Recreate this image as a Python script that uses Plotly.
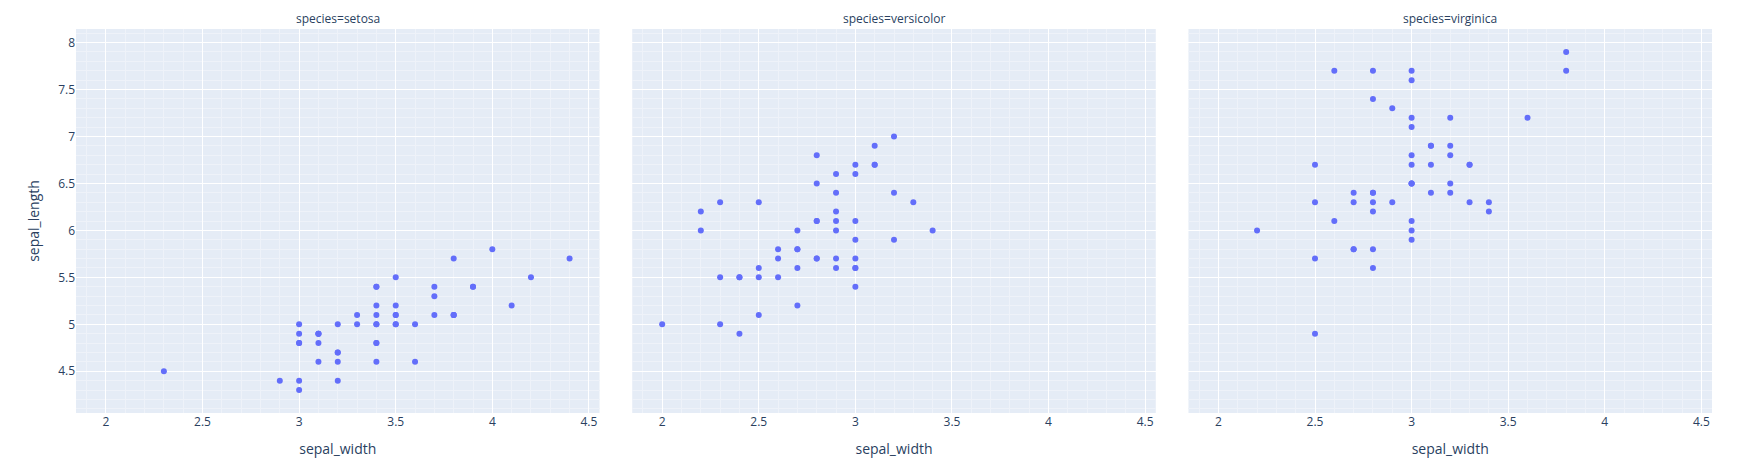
import plotly.graph_objects as go
from plotly.subplots import make_subplots

species = ["setosa", "versicolor", "virginica"]

setosa_width = [3.5, 3.0, 3.2, 3.1, 3.6, 3.9, 3.4, 3.4, 2.9, 3.1, 3.7, 3.4, 3.0, 3.0, 4.0, 4.4, 3.9, 3.5, 3.8, 3.8,
                3.4, 3.7, 3.6, 3.3, 3.4, 3.0, 3.4, 3.5, 3.4, 3.2, 3.1, 3.4, 4.1, 4.2, 3.1, 3.2, 3.5, 3.1, 3.0, 3.4,
                3.5, 2.3, 3.2, 3.5, 3.8, 3.0, 3.8, 3.2, 3.7, 3.3]
setosa_length = [5.1, 4.9, 4.7, 4.6, 5.0, 5.4, 4.6, 5.0, 4.4, 4.9, 5.4, 4.8, 4.8, 4.3, 5.8, 5.7, 5.4, 5.1, 5.7, 5.1,
                 5.4, 5.1, 4.6, 5.1, 4.8, 5.0, 5.0, 5.2, 5.2, 4.7, 4.8, 5.4, 5.2, 5.5, 4.9, 5.0, 5.5, 4.9, 4.4, 5.1,
                 5.0, 4.5, 4.4, 5.0, 5.1, 4.8, 5.1, 4.6, 5.3, 5.0]

versicolor_width = [3.2, 3.2, 3.1, 2.3, 2.8, 2.8, 3.3, 2.4, 2.9, 2.7, 2.0, 3.0, 2.2, 2.9, 2.9, 3.1, 3.0, 2.7, 2.2, 2.5,
                    3.2, 2.8, 2.5, 2.8, 2.9, 3.0, 2.8, 3.0, 2.9, 2.6, 2.4, 2.4, 2.7, 2.7, 3.0, 3.4, 3.1, 2.3, 3.0, 2.5,
                    2.6, 3.0, 2.6, 2.3, 2.7, 3.0, 2.9, 2.9, 2.5, 2.8]
versicolor_length = [7.0, 6.4, 6.9, 5.5, 6.5, 5.7, 6.3, 4.9, 6.6, 5.2, 5.0, 5.9, 6.0, 6.1, 5.6, 6.7, 5.6, 5.8, 6.2, 5.6,
                     5.9, 6.1, 6.3, 6.1, 6.4, 6.6, 6.8, 6.7, 6.0, 5.7, 5.5, 5.5, 5.8, 6.0, 5.4, 6.0, 6.7, 6.3, 5.6, 5.5,
                     5.5, 6.1, 5.8, 5.0, 5.6, 5.7, 5.7, 6.2, 5.1, 5.7]

virginica_width = [3.3, 2.7, 3.0, 2.9, 3.0, 3.0, 2.5, 2.9, 2.5, 3.6, 3.2, 2.7, 3.0, 2.5, 2.8, 3.2, 3.0, 3.8, 2.6, 2.2,
                   3.2, 2.8, 2.8, 2.7, 3.3, 3.2, 2.8, 3.0, 2.8, 3.0, 2.8, 3.8, 2.8, 2.8, 2.6, 3.0, 3.4, 3.1, 3.0, 3.1,
                   3.1, 3.1, 2.7, 3.2, 3.3, 3.0, 2.5, 3.0, 3.4, 3.0]
virginica_length = [6.3, 5.8, 7.1, 6.3, 6.5, 7.6, 4.9, 7.3, 6.7, 7.2, 6.5, 6.4, 6.8, 5.7, 5.8, 6.4, 6.5, 7.7, 7.7, 6.0,
                    6.9, 5.6, 7.7, 6.3, 6.7, 7.2, 6.2, 6.1, 6.4, 7.2, 7.4, 7.9, 6.4, 6.3, 6.1, 7.7, 6.3, 6.4, 6.0, 6.9,
                    6.7, 6.9, 5.8, 6.8, 6.7, 6.7, 6.3, 6.5, 6.2, 5.9]

series = [(setosa_width, setosa_length), (versicolor_width, versicolor_length), (virginica_width, virginica_length)]

fig = make_subplots(rows=1, cols=3, shared_yaxes=True, horizontal_spacing=0.02,
                    subplot_titles=[f"species={s}" for s in species])

for i, (xs, ys) in enumerate(series):
    fig.add_trace(go.Scatter(x=xs, y=ys, mode="markers", marker=dict(color="#636efa", size=6),
                             showlegend=False, name=species[i]), row=1, col=i + 1)
    fig.update_xaxes(title_text="sepal_width", matches="x", row=1, col=i + 1,
                     minor=dict(dtick=0.1, showgrid=True))
    fig.update_yaxes(matches="y", row=1, col=i + 1, minor=dict(dtick=0.1, showgrid=True))

fig.update_yaxes(title_text="sepal_length", row=1, col=1)

for a in fig.layout.annotations:
    a.font = dict(size=12)

# the page body adds an 8px offset, so the figure is sized to fill the rest of the window
fig.update_layout(width=1754, height=464, template="plotly",
                  margin=dict(l=68, r=50, t=21, b=59))

fig.write_html("out.html")
